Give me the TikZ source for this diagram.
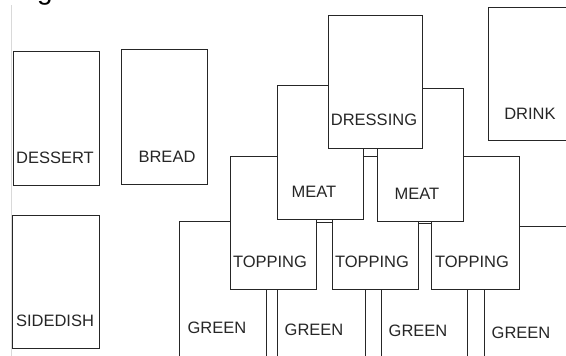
\documentclass[tikz,border=0pt]{standalone}
\usepackage{fontspec}
\setmainfont{Liberation Sans}
\begin{document}
\begin{tikzpicture}[x=1pt,y=-1pt,
  bx/.style={draw=black!85, fill=white, line width=1.4pt, inner sep=0pt, anchor=north west},
  lbl/.style={inner sep=0pt, anchor=center, font=\fontsize{16.5}{18}\selectfont, text=black!85}]
\useasboundingbox[fill=white] (0,0) rectangle (566,356);
% window edge and heading fragment
\coordinate (edgeTop) at (11.5,5);
\coordinate (edgeBot) at (11.5,356);
\draw[black!15, line width=0.8pt] (edgeTop) -- (edgeBot);
\node[inner sep=0pt, anchor=base, font=\fontsize{28}{30}\selectfont] (heading) at (45,-1) {g};
% left column
\node[bx, minimum width=86pt, minimum height=134pt] (dessert) at (13,51) {};
\node[lbl] (dessertL) at (55,158) {DESSERT};
\node[bx, minimum width=86pt, minimum height=135pt] (bread) at (121,49) {};
\node[lbl] (breadL) at (167,157) {BREAD};
\node[bx, minimum width=87pt, minimum height=133pt] (sidedish) at (12,215) {};
\node[lbl] (sidedishL) at (55,321) {SIDEDISH};
\node[bx, minimum width=95pt, minimum height=133pt] (drink) at (488,7) {};
\node[lbl] (drinkL) at (530,114) {DRINK};
% green row (back)
\node[bx, minimum width=87pt, minimum height=150pt] (green1) at (179,221) {};
\node[lbl] (green1L) at (217,328) {GREEN};
\node[bx, minimum width=88pt, minimum height=150pt] (green2) at (277,222) {};
\node[lbl] (green2L) at (314,330) {GREEN};
\node[bx, minimum width=86pt, minimum height=150pt] (green3) at (381,223) {};
\node[lbl] (green3L) at (418,331) {GREEN};
\node[bx, minimum width=90pt, minimum height=150pt] (green4) at (484,226) {};
\node[lbl] (green4L) at (521,333) {GREEN};
% topping row
\node[bx, minimum width=86pt, minimum height=133pt] (topping1) at (230,156) {};
\node[lbl] (topping1L) at (270,262) {TOPPING};
\node[bx, minimum width=86pt, minimum height=133pt] (topping2) at (332,156) {};
\node[lbl] (topping2L) at (372,262) {TOPPING};
\node[bx, minimum width=88pt, minimum height=133pt] (topping3) at (431,156) {};
\node[lbl] (topping3L) at (472,262) {TOPPING};
% meat row
\node[bx, minimum width=86pt, minimum height=134pt] (meat1) at (277,85) {};
\node[lbl] (meat1L) at (314,192) {MEAT};
\node[bx, minimum width=86pt, minimum height=133pt] (meat2) at (377,88) {};
\node[lbl] (meat2L) at (417,194) {MEAT};
% dressing (front)
\node[bx, minimum width=94pt, minimum height=133pt] (dressing) at (328,15) {};
\node[lbl] (dressingL) at (374,120) {DRESSING};
\end{tikzpicture}
\end{document}
